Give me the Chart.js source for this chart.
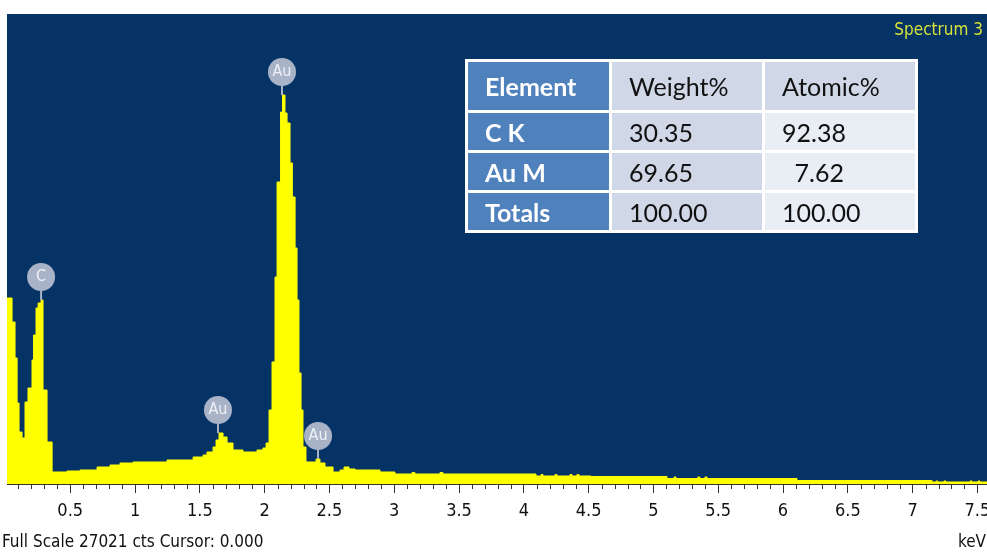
<!DOCTYPE html>
<html>
<head>
<meta charset="utf-8">
<script src="https://cdn.jsdelivr.net/npm/chart.js@4.4.0/dist/chart.umd.min.js"></script>
<style>
  html, body { margin: 0; padding: 0; background: #fff; }
  #wrap { position: relative; width: 987px; height: 552px; overflow: hidden; }
  #spectrum { position: absolute; left: 0; top: 0; }
  #quant {
    position: absolute; left: 465px; top: 59px;
    border-collapse: collapse; border: 3px solid #fff;
    font-family: Lato, 'Open Sans', sans-serif; font-size: 25px;
  }
  #quant td { border: 3px solid #fff; padding: 0 0 0 17px; height: 37px; color: #111; }
  #quant tr:first-child td { height: 48px; }
  #quant td.el { background: #4f81bd; color: #fff; font-weight: bold; width: 124px; }
  #quant td.c2 { background: #d0d8e8; width: 133px; }
  #quant td.c3 { background: #e9edf4; width: 133px; }
  #quant tr:first-child td.c3 { background: #d0d8e8; }
</style>
</head>
<body>
<div id="wrap">
  <canvas id="spectrum" width="987" height="552"></canvas>
  <table id="quant"></table>
</div>
<script>
// EDS spectrum (keV, counts)
const energy = [0.012, 0.051, 0.074, 0.090, 0.105, 0.128, 0.151, 0.174, 0.205, 0.217,
  0.236, 0.252, 0.275, 0.290, 0.321, 0.360, 0.475, 0.576, 0.707, 0.807,
  0.884, 0.985, 1.247, 1.448, 1.525, 1.555, 1.602, 1.625, 1.648, 1.679,
  1.710, 1.756, 1.833, 1.941, 1.987, 2.011, 2.034, 2.057, 2.080, 2.096,
  2.123, 2.138, 2.157, 2.173, 2.196, 2.214, 2.235, 2.250, 2.265, 2.281,
  2.296, 2.319, 2.373, 2.397, 2.427, 2.466, 2.528, 2.582, 2.613, 2.651,
  2.698, 2.798, 2.890, 3.006, 3.137, 3.160, 3.353, 3.376, 4.094, 4.133,
  4.148, 4.241, 4.256, 4.356, 4.372, 4.410, 4.426, 4.518, 5.105, 5.159,
  5.174, 5.343, 5.358, 5.398, 5.414, 6.108, 7.150, 7.181, 7.194, 7.242,
  7.257, 7.443, 7.458, 7.505, 7.520, 7.574];
const counts = [10693, 9313, 7244, 4657, 2989, 2645, 4714, 5519, 7129, 8566,
  10118, 10406, 10578, 5404, 2415, 690, 747, 805, 977, 1092,
  1207, 1265, 1380, 1552, 1667, 1840, 2127, 2530, 2932, 2702,
  2357, 1955, 1840, 1955, 2070, 2357, 4254, 7014, 11900, 17362,
  21386, 22364, 21329, 20754, 18454, 16500, 13568, 10578, 6381, 4254,
  2127, 1265, 1265, 1437, 1207, 977, 690, 805, 977, 862,
  805, 805, 690, 575, 661, 575, 661, 575, 460, 546,
  460, 546, 460, 546, 460, 546, 460, 431, 316, 402,
  316, 402, 316, 402, 316, 201, 115, 172, 115, 172,
  115, 172, 115, 172, 115, 115];

const FULL_SCALE = 27021;
const X_MIN = 0.012;
const X_MAX = 7.574;

// peak markers: element, energy (keV), peak counts
const peakNames = ['C', 'Au', 'Au', 'Au'];
const peakEnergy = [0.275, 2.134, 1.640, 2.412];
const peakCounts = [10578, 22364, 2932, 1437];

const tableHead = ['Element', 'Weight%', 'Atomic%'];
const tableRows = [
  ['C K', '30.35', '92.38'],
  ['Au M', '69.65', '\u20027.62'],
  ['Totals', '100.00', '100.00']
];

const NARROW = "'Liberation Sans Narrow', 'DejaVu Sans Condensed', sans-serif";

function buildTable() {
  const table = document.getElementById('quant');
  [tableHead].concat(tableRows).forEach(row => {
    const tr = document.createElement('tr');
    row.forEach((txt, i) => {
      const td = document.createElement('td');
      td.className = i === 0 ? 'el' : (i === 1 ? 'c2' : 'c3');
      td.textContent = txt;
      tr.appendChild(td);
    });
    table.appendChild(tr);
  });
}

const decor = {
  id: 'decor',
  beforeDraw(chart) {
    const { ctx, chartArea: a } = chart;
    ctx.save();
    ctx.fillStyle = '#063366';
    ctx.fillRect(a.left, a.top, a.right - a.left, a.bottom - a.top);
    ctx.restore();
  },
  afterDraw(chart) {
    const { ctx, chartArea: a } = chart;
    const xs = chart.scales.x;
    const ys = chart.scales.y;
    ctx.save();

    // minor ticks every 0.1 keV
    ctx.strokeStyle = '#333';
    ctx.lineWidth = 1;
    for (let i = 1; i <= 75; i++) {
      if (i % 5 === 0) continue;
      const px = Math.round(xs.getPixelForValue(i / 10)) + 0.5;
      ctx.beginPath();
      ctx.moveTo(px, a.bottom);
      ctx.lineTo(px, a.bottom + 5);
      ctx.stroke();
    }

    // peak labels
    peakNames.forEach((name, i) => {
      const px = xs.getPixelForValue(peakEnergy[i]);
      const py = ys.getPixelForValue(peakCounts[i]);
      ctx.strokeStyle = '#a9b3c7';
      ctx.lineWidth = 2;
      ctx.beginPath();
      ctx.moveTo(px, py - 10);
      ctx.lineTo(px, py);
      ctx.stroke();
      ctx.fillStyle = '#a9b3c7';
      ctx.beginPath();
      ctx.arc(px, py - 23, 14, 0, Math.PI * 2);
      ctx.fill();
      ctx.fillStyle = '#eef1f6';
      ctx.font = '16px ' + NARROW;
      ctx.textAlign = 'center';
      ctx.textBaseline = 'middle';
      ctx.fillText(name, px, py - 23);
    });

    ctx.fillStyle = '#d6e23a';
    ctx.font = '17px ' + NARROW;
    ctx.textAlign = 'right';
    ctx.textBaseline = 'middle';
    ctx.fillText('Spectrum 3', 983, 31);

    ctx.fillStyle = '#111';
    ctx.font = '17px ' + NARROW;
    ctx.textAlign = 'left';
    ctx.fillText('Full Scale 27021 cts Cursor: 0.000', 2, 543);
    ctx.textAlign = 'right';
    ctx.fillText('keV', 986, 543);
    ctx.restore();
  }
};

buildTable();

new Chart(document.getElementById('spectrum').getContext('2d'), {
  type: 'line',
  data: {
    datasets: [{
      data: energy.map((e, i) => ({ x: e, y: counts[i] })),
      stepped: true,
      fill: 'origin',
      backgroundColor: '#ffff00',
      borderColor: '#ffff00',
      borderWidth: 1,
      pointRadius: 0
    }]
  },
  options: {
    responsive: false,
    animation: false,
    devicePixelRatio: 1,
    layout: { padding: { left: 7, top: 14, right: 0, bottom: 0 } },
    plugins: { legend: { display: false }, tooltip: { enabled: false } },
    scales: {
      x: {
        type: 'linear',
        min: X_MIN,
        max: X_MAX,
        afterFit: s => { s.height = 68; s.paddingLeft = 0; s.paddingRight = 0; },
        border: { display: true, color: '#333', width: 1 },
        grid: { drawOnChartArea: false, drawTicks: true, tickLength: 9, tickColor: '#333' },
        ticks: {
          stepSize: 0.5,
          includeBounds: false,
          padding: 8,
          color: '#111',
          maxRotation: 0,
          autoSkip: false,
          font: { family: NARROW, size: 18 },
          callback: v => (Math.abs(v) < 1e-6 ? '' : String(Math.round(v * 10) / 10))
        }
      },
      y: { display: false, min: 0, max: FULL_SCALE }
    }
  },
  plugins: [decor]
});
</script>
</body>
</html>
